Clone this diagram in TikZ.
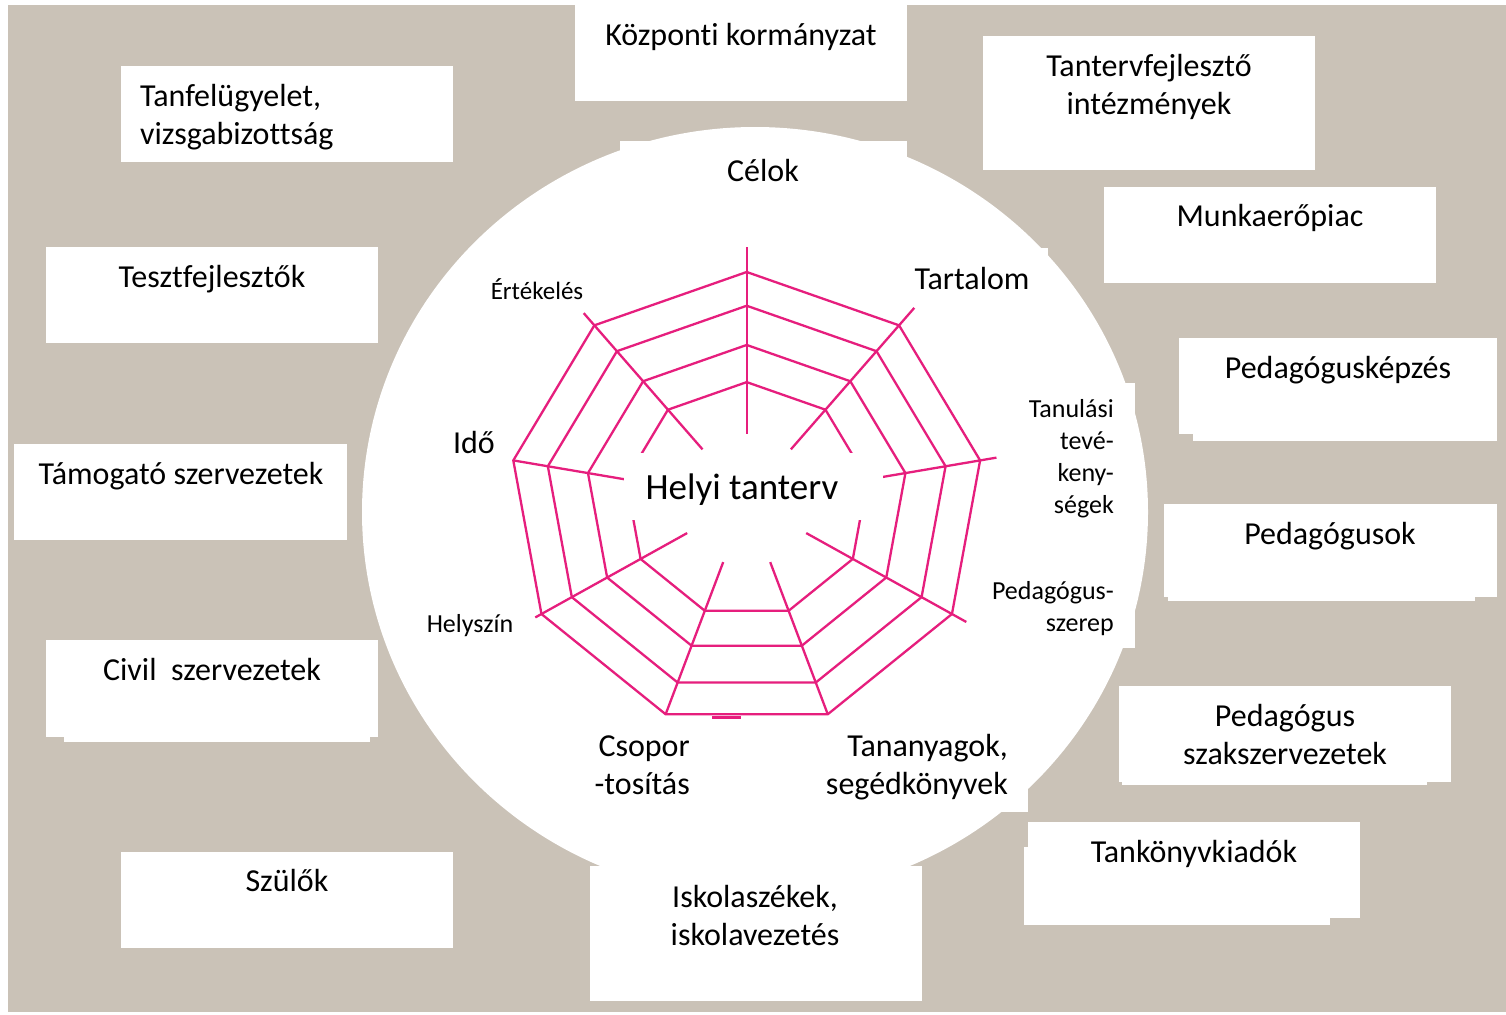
\documentclass[tikz,border=0pt]{standalone}
\usepackage{fontspec}
\setmainfont{Carlito}[Ligatures=NoCommon]
\definecolor{bg}{RGB}{202,194,183}
\definecolor{web}{RGB}{230,30,125}
\begin{document}
\begin{tikzpicture}[x=1pt,y=-1pt,
  box/.style={fill=white, draw=none, inner sep=0pt},
  lbl/.style={inner sep=0pt, font=\fontsize{32}{38}\selectfont},
  sm/.style={inner sep=0pt, font=\fontsize{26}{32}\selectfont},
  webline/.style={draw=web, line width=2.3pt, line join=miter}]
\useasboundingbox (0,0) rectangle (1506,1014);
\fill[bg] (8,5) rectangle (1506,1012);

% central disc and the white patches behind its labels
\fill[white] (755,512) ellipse [x radius=393, y radius=385];
\fill[white] (620,141) rectangle (907,230);
\fill[white] (900,248) rectangle (1048,320);
\fill[white] (1000,383) rectangle (1135,648);
\fill[white] (830,720) rectangle (1028,812);

% outer boxes
\node[box, minimum width=332pt, minimum height=96pt]  (kozp)  at (741,53)    {};
\node[box, minimum width=332pt, minimum height=134pt] (tfi)   at (1149,103)  {};
\node[box, minimum width=332pt, minimum height=96pt]  (munka) at (1270,235)  {};
\node[box, minimum width=318pt, minimum height=96pt]  (pkep)  at (1338,386)  {};
\fill[white] (1193,434) rectangle (1497,441);
\node[box, minimum width=333pt, minimum height=93pt]  (ped)   at (1330.5,550.5) {};
\fill[white] (1168,597) rectangle (1475,601);
\node[box, minimum width=332pt, minimum height=96pt]  (pszak) at (1285,734)  {};
\fill[white] (1122,782) rectangle (1427,785);
\node[box, minimum width=332pt, minimum height=96pt]  (tkk)   at (1194,870)  {};
\fill[white] (1024,847) rectangle (1330,925);
\node[box, minimum width=332pt, minimum height=135pt] (isk)   at (756,933.5) {};
\node[box, minimum width=332pt, minimum height=96pt]  (szul)  at (287,900)   {};
\node[box, minimum width=332pt, minimum height=97pt]  (civil) at (212,688.5) {};
\fill[white] (64,737) rectangle (370,742);
\node[box, minimum width=333pt, minimum height=96pt]  (tam)   at (180.5,492) {};
\node[box, minimum width=332pt, minimum height=96pt]  (teszt) at (212,295)   {};
\node[box, minimum width=332pt, minimum height=96pt]  (tanf)  at (287,114)   {};

% box texts (for multi-line nodes the base anchor is the last line)
\node[lbl, anchor=base] (kozp-t)  at (741,46)   {Központi kormányzat};
\node[lbl, anchor=base, align=center] (tfi-t) at (1149,114) {Tantervfejlesztő\\intézmények};
\node[lbl, anchor=base] (munka-t) at (1270,226) {Munkaerőpiac};
\node[lbl, anchor=base] (pkep-t)  at (1338,378) {Pedagógusképzés};
\node[lbl, anchor=base] (ped-t)   at (1330,544) {Pedagógusok};
\node[lbl, anchor=base, align=center] (pszak-t) at (1285,764) {Pedagógus\\szakszervezetek};
\node[lbl, anchor=base] (tkk-t)   at (1194,862) {Tankönyvkiadók};
\node[lbl, anchor=base, align=center] (isk-t) at (755,945) {Iskolaszékek,\\iskolavezetés};
\node[lbl, anchor=base] (szul-t)  at (287,891)  {Szülők};
\node[lbl, anchor=base] (civil-t) at (212,680)  {Civil\ \ szervezetek};
\node[lbl, anchor=base] (tam-t)   at (181,484)  {Támogató szervezetek};
\node[lbl, anchor=base] (teszt-t) at (212,287)  {Tesztfejlesztők};
\node[lbl, anchor=base west, align=left] (tanf-t) at (140,144) {Tanfelügyelet,\\vizsgabizottság};

% spider web
\def\wcx{746.7}\def\wcy{500}\def\wrx{237}\def\wry{228}
\foreach \f [count=\i] in {1,0.852,0.68,0.517}{
  \foreach \j in {0,...,8}{
    \coordinate (r\i-\j) at ({\wcx+\wrx*\f*cos(90-40*\j)},{\wcy-\wry*\f*sin(90-40*\j)});
  }
}
\foreach \j/\fo in {0/1.11,1/1.10,2/1.07,3/1.07,4/1.0,5/1.0,6/1.03,7/1.0,8/1.07}{
  \coordinate (si\j) at ({\wcx+\wrx*0.29*cos(90-40*\j)},{\wcy-\wry*0.29*sin(90-40*\j)});
  \coordinate (so\j) at ({\wcx+\wrx*\fo*cos(90-40*\j)},{\wcy-\wry*\fo*sin(90-40*\j)});
  \draw[webline] (si\j) -- (so\j);
}
\foreach \i in {1,...,4}{
  \draw[webline] (r\i-0) \foreach \j in {1,...,8}{ -- (r\i-\j) } -- cycle;
}
\draw[web, line width=3pt] (712,717) -- (741,717);

% centre
\fill[white] (624,453) rectangle (883,520);
\node[inner sep=0pt, anchor=base, font=\fontsize{37}{44}\selectfont] (helyi) at (742,499) {Helyi tanterv};

% web labels
\node[lbl, anchor=base] (celok)  at (763,181) {Célok};
\node[lbl, anchor=base] (tart)   at (972,289) {Tartalom};
\node[inner sep=0pt, anchor=base, font=\fontsize{25}{30}\selectfont] (ert) at (537,299) {Értékelés};
\node[lbl, anchor=base] (ido)    at (474,453) {Idő};
\node[sm, anchor=base east, align=right] (tan) at (1114,513) {Tanulási\\tevé-\\keny-\\ségek};
\node[sm, anchor=base east, align=right] (pszer) at (1114,631) {Pedagógus-\\szerep};
\node[sm, anchor=base] (hely) at (470,632) {Helyszín};
\node[lbl, anchor=base east, align=right] (csop) at (690,794) {Csopor\\-tosítás};
\node[lbl, anchor=base east, align=right] (tanany) at (1008,794) {Tananyagok,\\segédkönyvek};
\end{tikzpicture}
\end{document}
